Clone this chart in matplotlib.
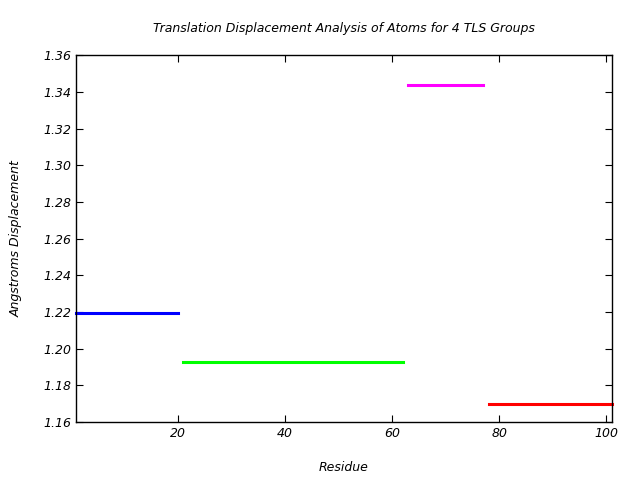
import matplotlib
matplotlib.use("Agg")
import matplotlib.pyplot as plt

groups = ["TLS 1", "TLS 2", "TLS 3", "TLS 4"]
starts = [1, 21, 63, 78]
ends = [20, 62, 77, 101]
values = [1.2194, 1.1927, 1.3437, 1.1698]
colors = ["#0000ff", "#00ff00", "#ff00ff", "#ff0000"]

plt.rcParams['font.family'] = ['DejaVu Sans']
fig = plt.figure(figsize=(6.4, 4.8), dpi=100)
ax = fig.add_axes([0.119, 0.121, 0.837, 0.764])
for s, e, v, c in zip(starts, ends, values, colors):
    ax.plot([s, e], [v, v], color=c, lw=2.2, solid_capstyle='projecting', clip_on=False)

ax.set_xlim(1, 101)
ax.set_ylim(1.16, 1.36)
ax.set_xticks([20, 40, 60, 80, 100])
ax.set_yticks([1.16 + 0.02 * i for i in range(11)])
ax.set_yticklabels([f"{1.16 + 0.02 * i:.2f}" for i in range(11)])
ax.tick_params(direction='in', top=True, right=True, length=5, labelsize=9)
for lab in ax.get_xticklabels() + ax.get_yticklabels():
    lab.set_fontstyle('italic')
for sp in ax.spines.values():
    sp.set_linewidth(1.0)
ax.set_title("Translation Displacement Analysis of Atoms for 4 TLS Groups",
             fontsize=9, style='italic', pad=17)
ax.set_xlabel("Residue", fontsize=9, style='italic', labelpad=15)
ax.set_ylabel("Angstroms Displacement", fontsize=9, style='italic', labelpad=15)
fig.savefig("out.png", dpi=100)
